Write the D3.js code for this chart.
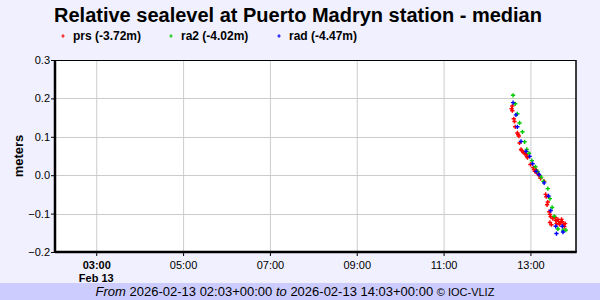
<!DOCTYPE html>
<html>
<head>
<meta charset="utf-8">
<script src="https://cdn.jsdelivr.net/npm/d3@7"></script>
<style>
  body { margin: 0; background: #f0f0ff; }
  svg { display: block; font-family: "Liberation Sans", Arial, sans-serif; }
</style>
</head>
<body>
<svg id="chart" width="600" height="300"></svg>
<script>
// series: [time "HH:MM" on 2026-02-13, value in meters]
const prsData = [
  ["12:34", 0.173], ["12:35", 0.180], ["12:35", 0.168], ["12:37", 0.147], ["12:38", 0.140],
  ["12:39", 0.126], ["12:42", 0.110], ["12:43", 0.106], ["12:44", 0.102], ["12:45", 0.084],
  ["12:47", 0.067], ["12:48", 0.064], ["12:50", 0.060], ["12:51", 0.059], ["12:52", 0.057],
  ["12:54", 0.054], ["12:55", 0.049], ["12:56", 0.046], ["13:00", 0.028], ["13:04", 0.020],
  ["13:05", 0.015], ["13:06", 0.010], ["13:08", 0.013], ["13:09", 0.007], ["13:10", 0.004],
  ["13:12", -0.001], ["13:14", -0.008], ["13:19", -0.016], ["13:21", -0.050], ["13:22", -0.056],
  ["13:23", -0.077], ["13:24", -0.070], ["13:26", -0.095], ["13:27", -0.102], ["13:27", -0.123],
  ["13:28", -0.108], ["13:29", -0.129], ["13:31", -0.113], ["13:34", -0.110], ["13:35", -0.118],
  ["13:36", -0.126], ["13:38", -0.115], ["13:39", -0.121], ["13:40", -0.128], ["13:42", -0.123],
  ["13:43", -0.115], ["13:44", -0.121], ["13:46", -0.128], ["13:47", -0.134], ["13:48", -0.126]
];
const ra2Data = [
  ["12:36", 0.208], ["12:39", 0.186], ["12:42", 0.160], ["12:45", 0.136], ["12:49", 0.113],
  ["12:52", 0.087], ["12:55", 0.067], ["12:58", 0.057], ["13:02", 0.038], ["13:07", 0.022],
  ["13:10", 0.010], ["13:15", -0.005], ["13:18", -0.016], ["13:24", -0.035], ["13:27", -0.061],
  ["13:30", -0.084], ["13:33", -0.107], ["13:38", -0.140], ["13:45", -0.143], ["13:49", -0.143]
];
const radData = [
  ["12:36", 0.189], ["12:40", 0.157], ["12:42", 0.126], ["12:47", 0.088], ["12:54", 0.062],
  ["12:59", 0.049], ["13:03", 0.030], ["13:08", 0.010], ["13:12", 0.002], ["13:19", -0.020],
  ["13:25", -0.054], ["13:28", -0.092], ["13:35", -0.133], ["13:36", -0.152], ["13:44", -0.133],
  ["13:45", -0.148]
];
const seriesNames = ["prs (-3.72m)", "ra2 (-4.02m)", "rad (-4.47m)"];
const seriesColors = ["#ff0000", "#00cc00", "#0000ff"];
const yTicks = [-0.2, -0.1, 0.0, 0.1, 0.2, 0.3];
const xTickTimes = ["03:00", "05:00", "07:00", "09:00", "11:00", "13:00"];
const day = "2026-02-13";
const timeStart = "02:03";
const timeEnd = "14:03";

const svg = d3.select("#chart");
const margin = {top: 60, right: 24, bottom: 48, left: 55};
const width = 600 - margin.left - margin.right;
const height = 300 - margin.top - margin.bottom;

const parseTime = d3.utcParse("%Y-%m-%d %H:%M");
const toDate = t => parseTime(day + " " + t);

const x = d3.scaleUtc()
  .domain([toDate(timeStart), toDate(timeEnd)])
  .range([0, width]);
const y = d3.scaleLinear()
  .domain([-0.2, 0.3])
  .range([height, 0]);

const g = svg.append("g")
  .attr("transform", `translate(${margin.left},${margin.top})`);

// plot background
g.append("rect")
  .attr("width", width).attr("height", height)
  .attr("fill", "#fff");

// gridlines
g.append("g").selectAll("line")
  .data(xTickTimes.map(toDate))
  .join("line")
  .attr("x1", d => x(d) + 0.5).attr("x2", d => x(d) + 0.5)
  .attr("y1", 0).attr("y2", height)
  .attr("stroke", "#cccccc");
g.append("g").selectAll("line")
  .data(yTicks.filter(v => v > -0.2 && v < 0.3))
  .join("line")
  .attr("x1", 0).attr("x2", width)
  .attr("y1", d => Math.round(y(d)) + 0.5).attr("y2", d => Math.round(y(d)) + 0.5)
  .attr("stroke", "#cccccc");

// Y axis
const yAxis = g.append("g")
  .call(d3.axisLeft(y).tickValues(yTicks).tickFormat(d3.format(".1f")).tickSize(4).tickSizeOuter(0));
yAxis.select(".domain").remove();
yAxis.selectAll("text").attr("font-size", 11).attr("fill", "#000").attr("x", -5);

// X axis
const xAxis = g.append("g")
  .attr("transform", `translate(0,${height})`)
  .call(d3.axisBottom(x).tickValues(xTickTimes.map(toDate)).tickFormat(d3.utcFormat("%H:%M")).tickSize(4).tickSizeOuter(0));
xAxis.select(".domain").remove();
xAxis.selectAll("text").attr("font-size", 11).attr("fill", "#000").attr("y", 9)
  .attr("font-weight", (d, i) => i === 0 ? "bold" : "normal");
xAxis.append("text")
  .attr("x", x(toDate(xTickTimes[0]))).attr("y", 30)
  .attr("fill", "#000").attr("font-size", 11).attr("font-weight", "bold")
  .attr("text-anchor", "middle")
  .text(d3.utcFormat("%b %e")(toDate(xTickTimes[0])).replace("  ", " "));

// frame
g.append("line").attr("x1", 0).attr("x2", width).attr("y1", 0.5).attr("y2", 0.5).attr("stroke", "#000");
g.append("line").attr("x1", width).attr("x2", width).attr("y1", 0).attr("y2", height).attr("stroke", "#000").attr("stroke-width", 1.5);
g.append("line").attr("x1", 0).attr("x2", width + 0.75).attr("y1", height).attr("y2", height).attr("stroke", "#000").attr("stroke-width", 2.5);
g.append("line").attr("x1", 0).attr("x2", 0).attr("y1", 0).attr("y2", height + 1).attr("stroke", "#000").attr("stroke-width", 2.5);

// points
const marker = d3.symbol().type(d3.symbolCross).size(10);
[prsData, ra2Data, radData].forEach((series, i) => {
  g.append("g").selectAll("path")
    .data(series)
    .join("path")
    .attr("transform", d => `translate(${x(toDate(d[0]))},${y(d[1])})`)
    .attr("d", marker)
    .attr("fill", seriesColors[i]);
});

// title
svg.append("text")
  .attr("x", 298).attr("y", 22)
  .attr("text-anchor", "middle")
  .attr("font-size", 20).attr("font-weight", "bold")
  .text("Relative sealevel at Puerto Madryn station - median");

// legend
const legendX = [63, 171, 279];
seriesNames.forEach((name, i) => {
  svg.append("path")
    .attr("transform", `translate(${legendX[i]},36)`)
    .attr("d", d3.symbol().type(d3.symbolCross).size(6)())
    .attr("fill", seriesColors[i]);
  svg.append("text")
    .attr("x", legendX[i] + 10).attr("y", 40)
    .attr("font-size", 12).attr("font-weight", "bold")
    .text(name);
});

// y label
svg.append("text")
  .attr("transform", "translate(23,156) rotate(-90)")
  .attr("text-anchor", "middle")
  .attr("font-size", 13).attr("font-weight", "bold")
  .text("meters");

// footer
svg.append("rect")
  .attr("x", 0).attr("y", 283).attr("width", 600).attr("height", 17)
  .attr("fill", "#ccccff");
const footer = svg.append("text")
  .attr("x", 295).attr("y", 296)
  .attr("text-anchor", "middle")
  .attr("font-size", 13);
footer.append("tspan").attr("font-style", "italic").text("From ");
footer.append("tspan").text(`${day} ${timeStart}+00:00 `);
footer.append("tspan").attr("font-style", "italic").text("to ");
footer.append("tspan").text(`${day} ${timeEnd}+00:00 `);
footer.append("tspan").attr("font-size", 11).text("© IOC-VLIZ");
</script>
</body>
</html>
